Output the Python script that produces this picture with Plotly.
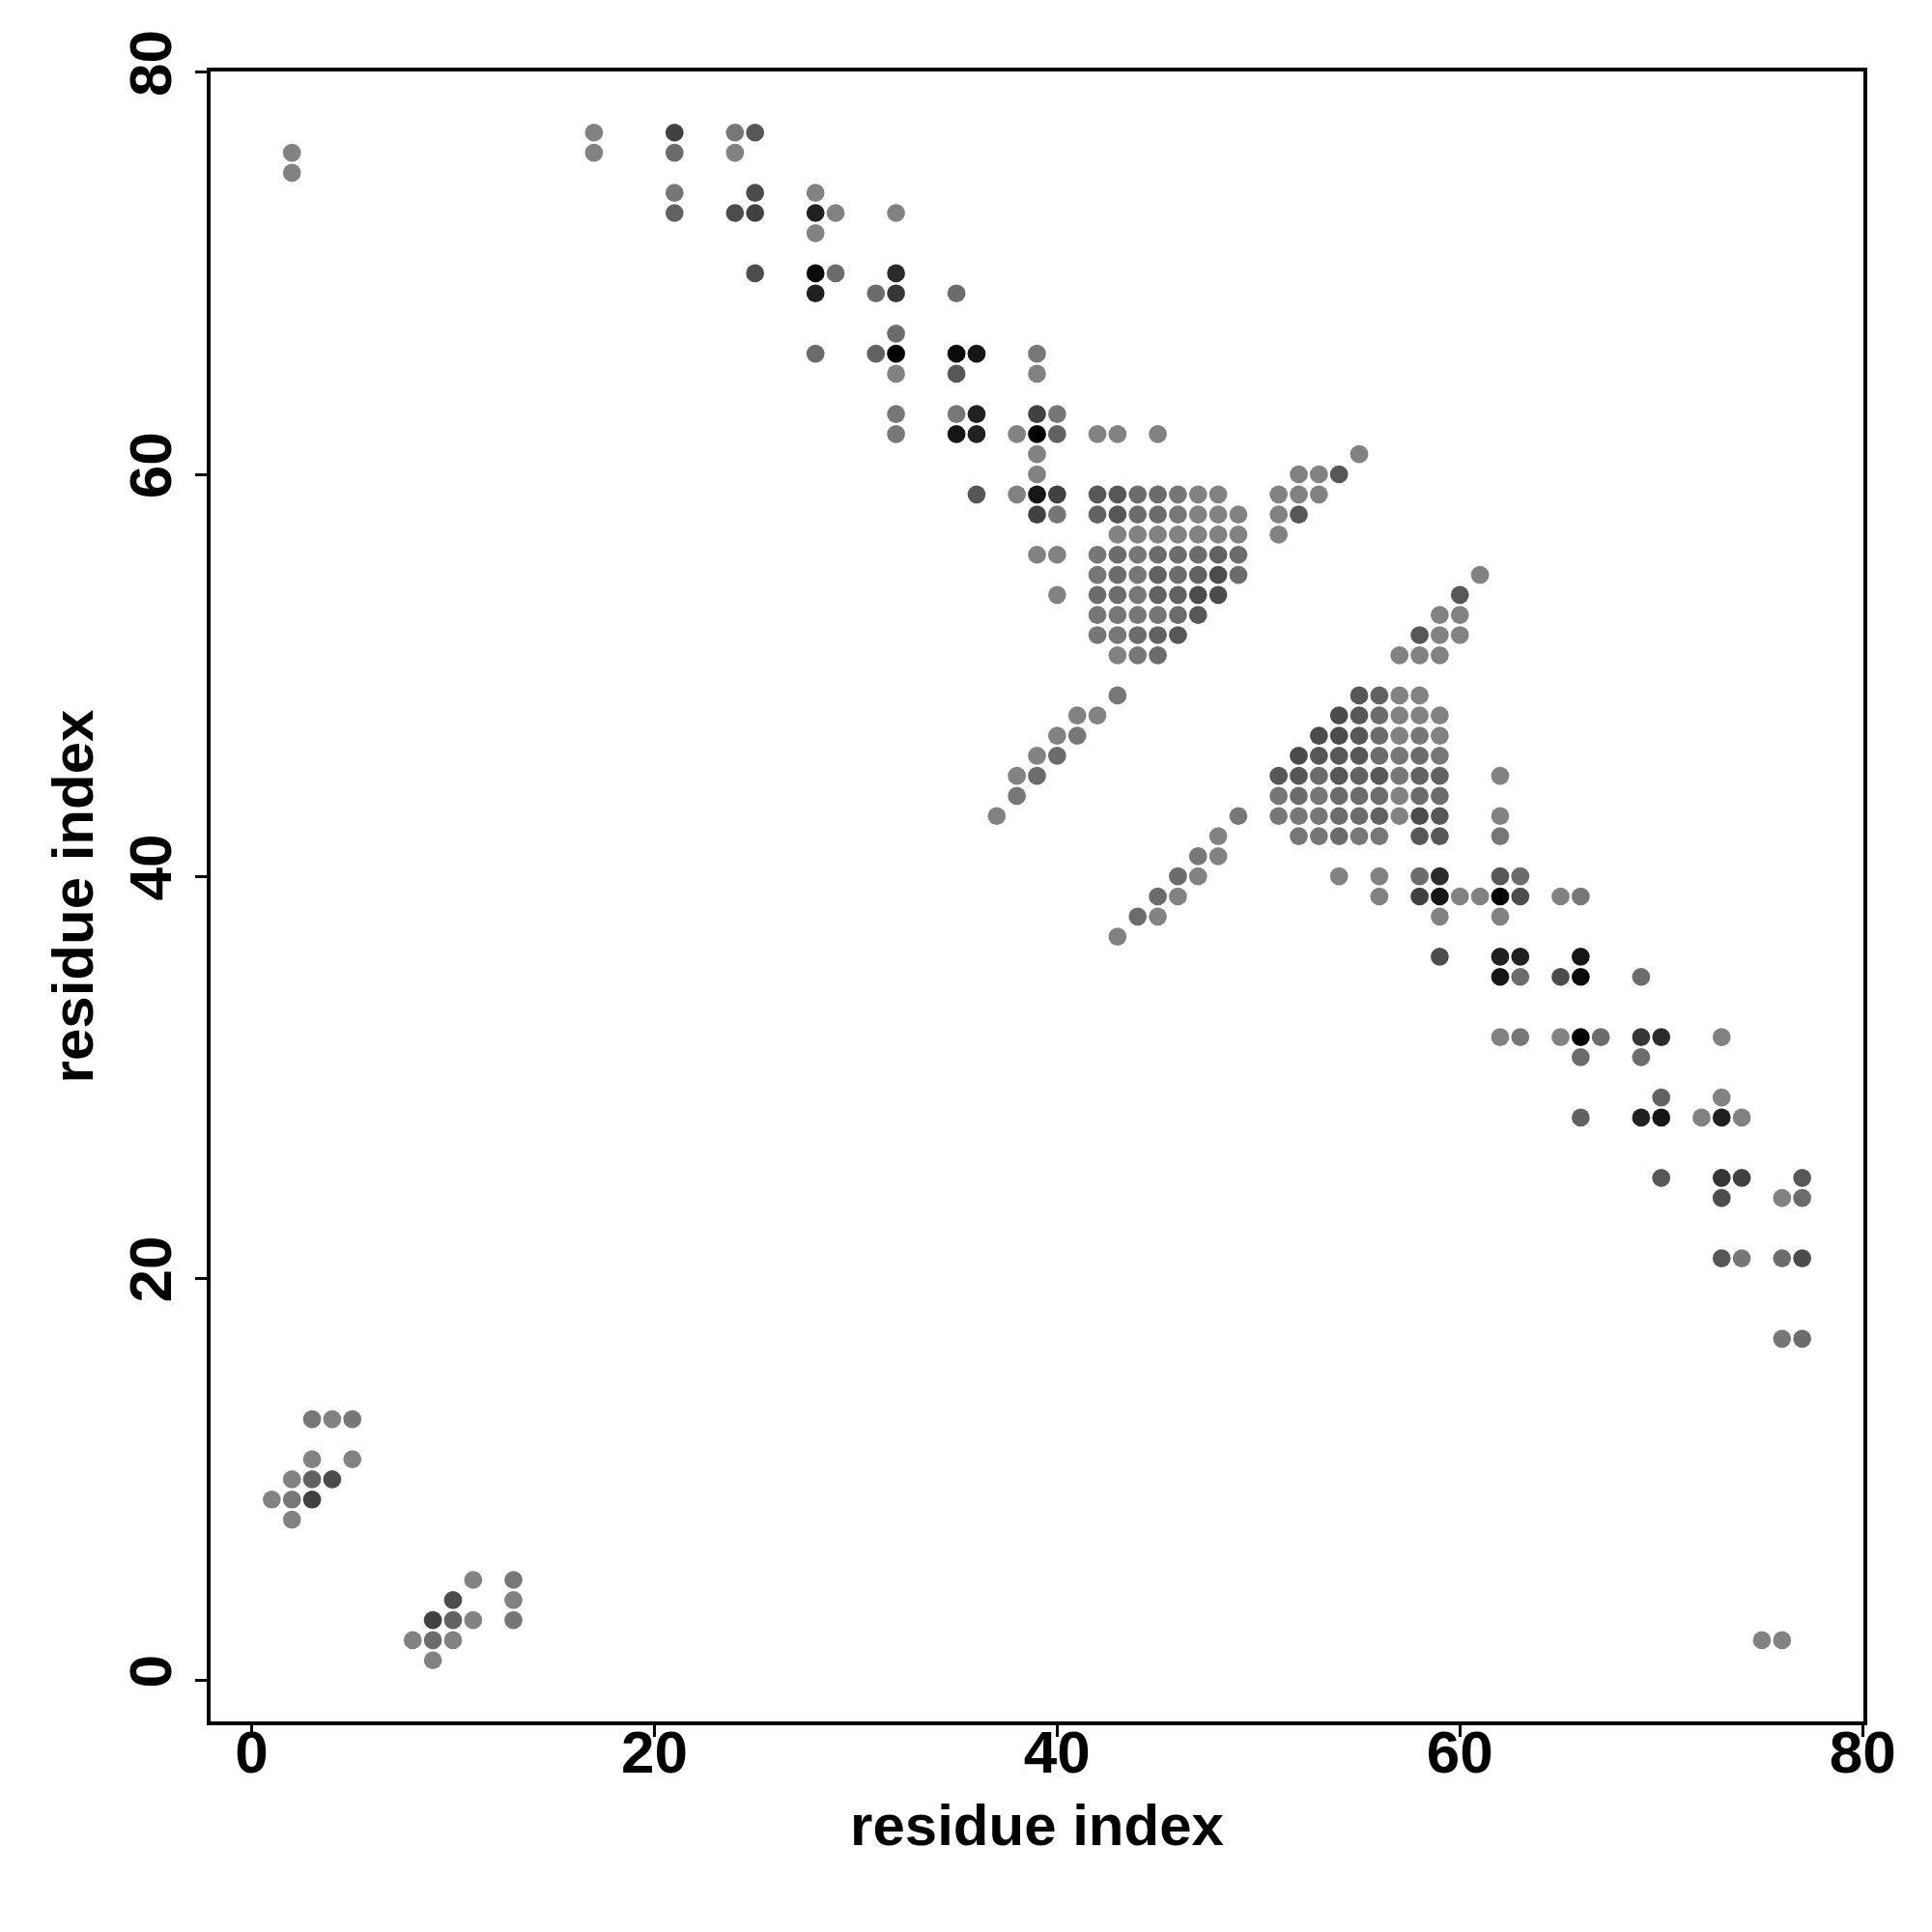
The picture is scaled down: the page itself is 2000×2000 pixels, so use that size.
import plotly.graph_objects as go

# contacts as (residue i, residue j, contact strength level 1..7)
far_contacts = [(2, 76, 1), (2, 75, 1)]

nterm_upper = [
    (17, 77, 1), (17, 76, 1),
    (21, 77, 4), (21, 76, 2), (21, 74, 1.5), (21, 73, 2.5),
    (24, 77, 1.5), (25, 77, 3), (24, 76, 1), (25, 74, 3.5), (24, 73, 3.5), (25, 73, 4), (25, 70, 3.5),
    (28, 74, 1), (28, 73, 5.5), (29, 73, 1), (28, 72, 1), (28, 70, 6.5), (29, 70, 2), (28, 69, 5.5), (28, 66, 2),
    (31, 69, 2), (32, 73, 1), (32, 70, 5), (32, 69, 4.5), (31, 66, 2.5), (32, 67, 2), (32, 66, 7),
    (32, 65, 1), (32, 63, 1.5), (32, 62, 1.5),
    (35, 69, 2), (35, 66, 6.5), (36, 66, 6), (35, 65, 3), (35, 63, 1.5), (36, 63, 5.5), (35, 62, 6),
    (36, 62, 5.5), (36, 59, 3),
    (39, 66, 1.5), (39, 65, 1), (39, 63, 4), (40, 63, 1.5), (38, 62, 1), (39, 62, 7), (40, 62, 2.5),
    (42, 62, 1), (43, 62, 1), (45, 62, 1),
    (39, 61, 1), (39, 60, 1), (38, 59, 1), (39, 59, 6), (40, 59, 4), (39, 58, 4), (40, 58, 1.5),
    (39, 56, 1), (40, 56, 1), (40, 54, 1),
]

sheet_block_1 = [
    (42, 59, 3), (43, 59, 3), (44, 59, 2), (45, 59, 2), (46, 59, 1.5), (47, 59, 1), (48, 59, 1),
    (42, 58, 2.5), (43, 58, 3), (44, 58, 2), (45, 58, 2), (46, 58, 1.5), (47, 58, 1), (48, 58, 1), (49, 58, 1),
    (43, 57, 1), (44, 57, 1), (45, 57, 1), (46, 57, 1), (47, 57, 1), (48, 57, 1), (49, 57, 1),
    (42, 56, 1.5), (43, 56, 2), (44, 56, 1.5), (45, 56, 2), (46, 56, 2), (47, 56, 2), (48, 56, 2.5), (49, 56, 2),
    (42, 55, 1.5), (43, 55, 2), (44, 55, 1.5), (45, 55, 2.5), (46, 55, 2), (47, 55, 2.5), (48, 55, 3.5), (49, 55, 2),
    (42, 54, 2), (43, 54, 2), (44, 54, 1.5), (45, 54, 2.5), (46, 54, 2.5), (47, 54, 3.5), (48, 54, 3.5),
    (42, 53, 1.5), (43, 53, 1.5), (44, 53, 1.5), (45, 53, 1.5), (46, 53, 2), (47, 53, 3),
    (42, 52, 1.5), (43, 52, 1.5), (44, 52, 2), (45, 52, 2.5), (46, 52, 3),
    (43, 51, 1), (44, 51, 1.5), (45, 51, 2),
    (43, 49, 1.5), (41, 48, 1), (42, 48, 1), (40, 47, 1), (41, 47, 1.5),
    (39, 46, 1), (40, 46, 2), (38, 45, 1), (39, 45, 2), (38, 44, 1.5), (37, 43, 1),
]

parallel_strands = [
    (51, 59, 1), (52, 59, 1), (53, 59, 1), (52, 60, 1), (53, 60, 1), (54, 60, 3), (55, 61, 1),
    (51, 58, 1), (52, 58, 3), (51, 57, 1),
    (61, 55, 1), (60, 54, 3), (59, 53, 1), (60, 53, 1), (58, 52, 3), (59, 52, 1), (60, 52, 1),
    (57, 51, 1), (58, 51, 1), (59, 51, 1),
]

sheet_block_2 = [
    (55, 49, 3), (56, 49, 2.5), (57, 49, 1), (58, 49, 1),
    (54, 48, 3.5), (55, 48, 3), (56, 48, 2), (57, 48, 1), (58, 48, 1), (59, 48, 1),
    (53, 47, 3.5), (54, 47, 3.5), (55, 47, 3), (56, 47, 2), (57, 47, 1), (58, 47, 1.5), (59, 47, 1),
    (52, 46, 3.5), (53, 46, 3), (54, 46, 3), (55, 46, 3), (56, 46, 2), (57, 46, 1.5), (58, 46, 2), (59, 46, 1.5),
    (51, 45, 3), (52, 45, 3), (53, 45, 2), (54, 45, 3), (55, 45, 2.5), (56, 45, 3), (57, 45, 1.5), (58, 45, 2.5), (59, 45, 2.5),
    (51, 44, 1.5), (52, 44, 2), (53, 44, 1.5), (54, 44, 2), (55, 44, 2), (56, 44, 2), (57, 44, 1), (58, 44, 2), (59, 44, 2),
    (51, 43, 1.5), (52, 43, 1.5), (53, 43, 1.5), (54, 43, 2), (55, 43, 2), (56, 43, 2.5), (57, 43, 1), (58, 43, 3.5), (59, 43, 3),
    (52, 42, 1.5), (53, 42, 1.5), (54, 42, 2), (55, 42, 1.5), (56, 42, 1.5), (58, 42, 3), (59, 42, 3),
    (49, 43, 1.5), (48, 42, 1), (47, 41, 1.5), (48, 41, 1), (46, 40, 2), (47, 40, 1),
    (45, 39, 2), (46, 39, 1), (44, 38, 2), (45, 38, 1), (43, 37, 1),
]

cterm_contacts = [
    (62, 45, 1), (62, 43, 1), (62, 42, 1.5),
    (54, 40, 1), (56, 40, 1), (58, 40, 2), (59, 40, 5), (62, 40, 3), (63, 40, 2),
    (56, 39, 1), (58, 39, 4), (59, 39, 6), (60, 39, 1), (61, 39, 1), (62, 39, 7), (63, 39, 3.5), (65, 39, 1), (66, 39, 1.5),
    (59, 38, 1), (62, 38, 1),
    (59, 36, 3.5), (62, 36, 5.5), (63, 36, 5.5), (66, 36, 6),
    (62, 35, 6), (63, 35, 2), (65, 35, 3.5), (66, 35, 6.5), (69, 35, 2),
    (62, 32, 1), (63, 32, 1.5), (65, 32, 1), (66, 32, 7), (67, 32, 2), (69, 32, 4.5), (70, 32, 5), (73, 32, 1),
    (66, 31, 2), (69, 31, 2),
    (70, 29, 2.5), (73, 29, 1),
    (66, 28, 2.5), (69, 28, 5.5), (70, 28, 6), (72, 28, 1), (73, 28, 5.5), (74, 28, 1),
    (70, 25, 3), (73, 25, 4.5), (74, 25, 4), (77, 25, 3),
    (73, 24, 3.5), (76, 24, 1), (77, 24, 2),
    (73, 21, 3), (74, 21, 1.5), (76, 21, 2), (77, 21, 3.5),
    (76, 17, 1.5), (77, 17, 2),
    (75, 2, 1), (76, 2, 1),
]

nterm_lower = [
    (3, 13, 1.5), (4, 13, 1), (5, 13, 1.5), (3, 11, 1), (5, 11, 1),
    (2, 10, 1), (3, 10, 2.5), (4, 10, 3.5), (1, 9, 1), (2, 9, 1.5), (3, 9, 4), (2, 8, 1),
    (11, 5, 1), (13, 5, 1.5), (10, 4, 3.5), (13, 4, 1), (9, 3, 4), (10, 3, 2.5), (11, 3, 1), (13, 3, 1.5),
    (8, 2, 1), (9, 2, 2), (10, 2, 1), (9, 1, 1),
]

tick_values = [0, 20, 40, 60, 80]
axis_title = "residue index"

all_contacts = (far_contacts + nterm_upper + sheet_block_1 + parallel_strands
                + sheet_block_2 + cterm_contacts + nterm_lower)
xs = [c[0] for c in all_contacts]
ys = [c[1] for c in all_contacts]
strength = [c[2] for c in all_contacts]

fig = go.Figure(go.Scatter(
    x=xs, y=ys, mode="markers",
    marker=dict(size=18.7, color=strength, cmin=1, cmax=7,
                colorscale=[[0, "rgb(130,130,130)"], [1, "rgb(0,0,0)"]],
                showscale=False, line=dict(width=0)),
    showlegend=False,
))

font_family = "Liberation Sans, Arial, Helvetica, sans-serif"
axis_common = dict(
    range=[-2.04, 80.04], tickvals=tick_values, ticks="outside", ticklen=12, tickwidth=3,
    tickcolor="black", showgrid=False, zeroline=False, showline=True, mirror=True,
    linecolor="black", linewidth=4, automargin=False,
    tickfont=dict(family=font_family, size=62, color="black", weight="bold"),
)

fig.update_layout(
    width=2000, height=2000,
    margin=dict(l=210, r=79, t=66, b=226),
    plot_bgcolor="white", paper_bgcolor="white",
    xaxis=dict(**axis_common, ticklabelstandoff=-37,
               title=dict(text=axis_title, standoff=22,
                          font=dict(family=font_family, size=60, color="black", weight="bold"))),
    yaxis=dict(**axis_common, tickangle=-90,
               title=dict(text=axis_title, standoff=6,
                          font=dict(family=font_family, size=60, color="black", weight="bold"))),
)

fig.write_html("out.html")
